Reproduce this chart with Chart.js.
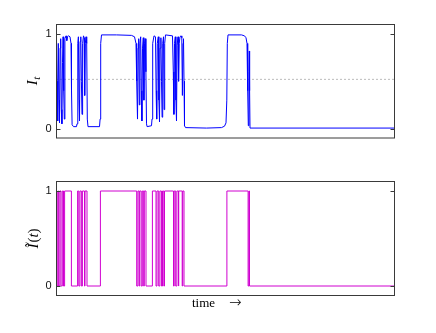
<!DOCTYPE html>
<html><head><meta charset="utf-8">
<script src="https://cdn.jsdelivr.net/npm/chart.js@4.4.0/dist/chart.umd.min.js"></script>
<style>
html,body{margin:0;padding:0;background:#fff;width:436px;height:333px;overflow:hidden}
#c1{position:absolute;left:0;top:0}
#c2{position:absolute;left:0;top:166px}
</style>
</head><body>
<canvas id="c1" width="436" height="166"></canvas>
<canvas id="c2" width="436" height="167"></canvas>
<script>
// ---- data ----
const timeRange = [0, 338];
const timeTop = [0,0.6,1.2,1.8,2.5,3.0,3.6,4.2,4.8,5.4,6.0,6.6,7.2,7.8,8.4,9.5,10.3,11,12,13.5,14.5,15.0,15.6,17,20,
 20.5,21.3,21.9,22.5,23.0,23.6,24.3,24.9,25.5,26.1,27,27.6,28.2,28.8,29.5,30.2,30.8,31.5,43,43.6,44.2,45,60,75,78,79.5,
 80.2,81.0,81.6,82.2,82.8,83.4,84.2,84.8,85.4,86.0,86.8,87.4,88.0,88.8,89.4,90.0,90.6,95.0,
 95.5,96.2,97.5,99,99.6,100.2,100.8,101.8,102.4,103,103.6,104.4,105,105.6,106.2,107,107.6,108.2,109,116,
 116.8,117.4,118,118.8,119.4,120,120.6,121.5,122.1,122.7,123.5,124.5,125.3,125.9,126.5,127,127.5,128,129,
 150,165,168,169.5,170.3,170.8,171.5,185,188,189.5,190.5,191.2,191.8,192.4,192.8,193.1,193.5,338];
const valTop = [0.93,0.5,0.08,0.9,0.3,0.06,0.85,0.95,0.2,0.05,0.7,0.97,0.4,0.1,0.95,0.98,0.93,0.97,0.98,0.97,0.9,0.4,0.04,0.02,0.02,
 0.05,0.9,0.97,0.3,0.08,0.92,0.97,0.5,0.15,0.9,0.98,0.96,0.35,0.9,0.97,0.9,0.1,0.02,0.02,0.1,0.9,0.99,0.99,0.985,0.97,0.9,
 0.5,0.1,0.85,0.95,0.25,0.9,0.97,0.4,0.08,0.85,0.96,0.3,0.9,0.95,0.6,0.05,0.02,0.03,
 0.1,0.9,0.98,0.97,0.4,0.1,0.9,0.97,0.3,0.07,0.85,0.96,0.5,0.12,0.9,0.97,0.2,0.9,0.99,0.98,
 0.6,0.15,0.9,0.97,0.3,0.08,0.88,0.97,0.5,0.9,0.97,0.98,0.96,0.35,0.9,0.95,0.5,0.03,0.01,
 0.005,0.01,0.025,0.06,0.3,0.9,0.99,0.99,0.98,0.96,0.9,0.4,0.03,0.6,0.82,0.4,0.005,0.005];
const timeBin = [0,0.57,1.55,2.2,3.4,4.5,5.8,7.0,8.1,14.9,21.1,22.3,23.4,24.85,25.9,28.0,28.5,30.5,43.9,80.2,
 81.4,82.6,83.2,84.7,85.8,87.2,87.8,89.5,95.9,99.5,100.5,102.2,103.4,104.95,106.0,107.3,108.0,
 117.0,117.7,119.2,120.4,122.05,122.2,125.7,126.2,127.5,170.4,191.6,192.4,193.0,338];
const valBin = [1,0,1,0,1,0,1,0,1,0,1,0,1,0,1,0,1,0,1,0,
 1,0,1,0,1,0,1,0,1,0,1,0,1,0,1,0,1,
 0,1,0,1,0,1,0,1,0,1,0,1,0,0];
const threshold = [0.52];
const yTickValues = [0, 1];
const yTickLabels = ['0', '1'];
const xLabelWord = 'time';
const xLabelArrow = '\u2192';

const boxPlugin = {
  id: 'box',
  afterDraw(chart, args, opts) {
    const {ctx, chartArea: a, scales} = chart;
    ctx.save();
    ctx.strokeStyle = '#3a3a3a';
    ctx.lineWidth = 1;
    ctx.strokeRect(a.left, a.top, a.right - a.left, a.bottom - a.top);
    const y = scales.y;
    yTickValues.forEach(v => {
      const py = Math.round(y.getPixelForValue(v)) + 0.5;
      ctx.beginPath();
      ctx.moveTo(a.left, py); ctx.lineTo(a.left + 4, py);
      ctx.moveTo(a.right, py); ctx.lineTo(a.right - 4, py);
      ctx.stroke();
    });
    ctx.fillStyle = '#000';
    const cy = (a.top + a.bottom) / 2;
    ctx.translate(34, cy);
    ctx.rotate(-Math.PI / 2);
    ctx.textBaseline = 'middle';
    ctx.textAlign = 'left';
    if (opts.title === 'top') {
      ctx.font = 'italic 15px "Liberation Serif"';
      const wI = ctx.measureText('I').width;
      ctx.font = 'italic 11px "Liberation Serif"';
      const wt = ctx.measureText('t').width;
      const x0 = -(wI + wt) / 2;
      ctx.font = 'italic 15px "Liberation Serif"';
      ctx.fillText('I', x0, -1);
      ctx.font = 'italic 11px "Liberation Serif"';
      ctx.fillText('t', x0 + wI + 0.5, 3);
    } else {
      ctx.font = 'italic 15px "Liberation Serif"';
      const w1 = ctx.measureText('\u0128').width;
      ctx.font = '15px "Liberation Serif"';
      const wp = ctx.measureText('(').width;
      ctx.font = 'italic 15px "Liberation Serif"';
      const wt = ctx.measureText('t').width;
      const total = w1 + wp * 2 + wt + 1;
      let x = -total / 2;
      ctx.font = 'italic 15px "Liberation Serif"';
      ctx.fillText('\u0128', x, 0); x += w1 + 1;
      ctx.font = '15px "Liberation Serif"';
      ctx.fillText('(', x, 0); x += wp;
      ctx.font = 'italic 15px "Liberation Serif"';
      ctx.fillText('t', x, 0); x += wt;
      ctx.font = '15px "Liberation Serif"';
      ctx.fillText(')', x, 0);
    }
    ctx.restore();
    if (opts.xlabel) {
      ctx.save();
      ctx.fillStyle = '#000';
      ctx.textBaseline = 'alphabetic';
      ctx.textAlign = 'left';
      ctx.font = '13px "Liberation Serif"';
      ctx.fillText(xLabelWord, 192, a.bottom + 11);
      ctx.font = '200 15px "DejaVu Sans"';
      ctx.fillText(xLabelArrow, 229, a.bottom + 11);
      ctx.restore();
    }
  }
};

function yScale() {
  return {
    min: -0.1, max: 1.1,
    afterBuildTicks: s => { s.ticks = yTickValues.map(v => ({value: v})); },
    afterFit: s => { s.width = 56.5; },
    grid: {display: false, drawTicks: false},
    border: {display: false},
    ticks: {padding: 5, color: '#111', font: {family: 'Liberation Sans', size: 11},
      callback: v => yTickLabels[yTickValues.indexOf(v)]}
  };
}

new Chart(document.getElementById('c1'), {
  type: 'line',
  data: {datasets: [
    {data: timeTop.map((t, i) => ({x: t, y: valTop[i]})), borderColor: '#0000ff', borderWidth: 1, pointRadius: 0, tension: 0},
    {data: [{x: timeRange[0], y: threshold[0]}, {x: timeRange[1], y: threshold[0]}], borderColor: '#777', borderDash: [1, 3], borderWidth: 1, pointRadius: 0}
  ]},
  options: {
    responsive: false, animation: false, events: [],
    layout: {padding: {top: 24.5, right: 41.5, bottom: 28, left: 0}},
    plugins: {legend: {display: false}, tooltip: {enabled: false}, box: {title: 'top'}},
    scales: {x: {type: 'linear', min: timeRange[0], max: timeRange[1], display: false}, y: yScale()}
  },
  plugins: [boxPlugin]
});

new Chart(document.getElementById('c2'), {
  type: 'line',
  data: {datasets: [
    {data: timeBin.map((t, i) => ({x: t, y: valBin[i]})), borderColor: '#d000d0', borderWidth: 1, pointRadius: 0, stepped: 'before'}
  ]},
  options: {
    responsive: false, animation: false, events: [],
    layout: {padding: {top: 15.5, right: 41.5, bottom: 37.5, left: 0}},
    plugins: {legend: {display: false}, tooltip: {enabled: false}, box: {title: 'bottom', xlabel: true}},
    scales: {x: {type: 'linear', min: timeRange[0], max: timeRange[1], display: false}, y: yScale()}
  },
  plugins: [boxPlugin]
});
</script>
</body></html>
